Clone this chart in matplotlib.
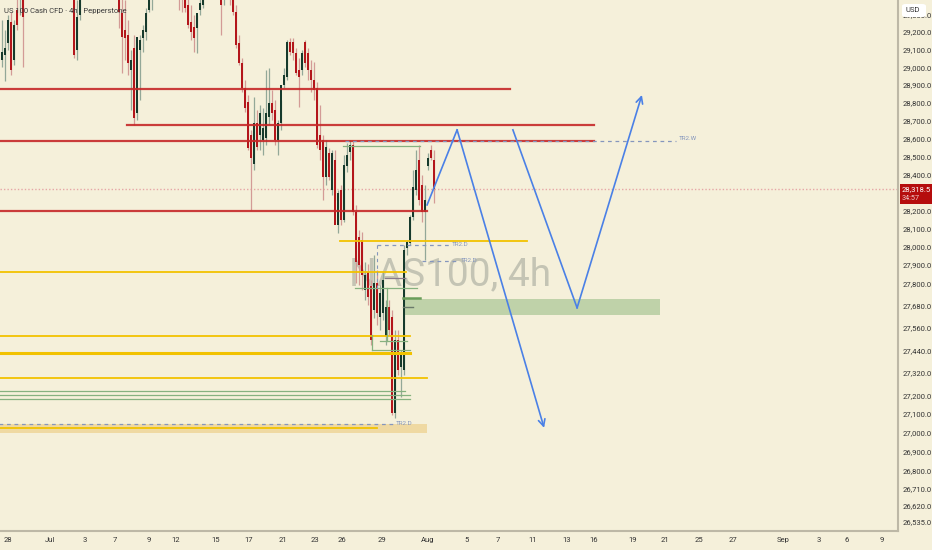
import numpy as np
import matplotlib
matplotlib.use("Agg")
import matplotlib.pyplot as plt
from matplotlib.ticker import FixedLocator, NullLocator
from matplotlib.patches import Rectangle, FancyBboxPatch

plt.rcParams['font.family'] = ['Roboto', 'DejaVu Sans']

# 4h candles (bars hidden above the top are rough guesses)
opens = [29041, 29069, 29137, 29257, 29041, 29326, 29441, 29498,
         29420, 29527, 29585, 29556, 29642, 29671, 29613, 29700, 29729, 29671, 29642, 29700, 29613, 29585, 29556, 29498,
         29498, 29097, 29297,
         29412, 29470, 29527, 29585, 29556, 29613, 29642, 29585, 29556, 29527, 29498, 29470,
         29441, 29309, 29211, 29183, 28984, 29108, 28741, 29097, 29165, 29200, 29326, 29412,
         29470, 29527, 29585, 29642, 29613, 29671, 29642, 29585,
         29498, 29412, 29383, 29354, 29257, 29229, 29223, 29326, 29354,
         29412, 29470, 29527, 29498, 29556,
         29498, 29383, 29441, 29498, 29383, 29314, 29137, 29024, 28883, 28803, 28619, 28457,
         28686, 28619, 28591, 28602, 28719, 28798, 28758, 28591, 28686, 28900, 28945, 29142,
         29142, 29080, 28984, 28984, 29142, 29080, 28984, 28928, 28883, 28619, 28591, 28385,
         28518, 28313, 28479, 28120, 28313, 28147, 28446, 28524, 28563, 28191, 28054, 28038,
         27765, 27863, 27787, 27657, 27803, 27619, 27641, 27517, 27673, 27619, 27106, 27495,
         27350, 27334, 27994, 28021, 28164, 28313, 28479, 28340, 28191, 28446, 28535, 28479]
highs = [29269, 29211, 29297, 29314, 29269, 29412, 29556, 29527,
         29560, 29610, 29600, 29670, 29700, 29690, 29720, 29760, 29745, 29690, 29725, 29710, 29640, 29600, 29570, 29520,
         29530, 29383, 29498,
         29490, 29545, 29600, 29610, 29630, 29665, 29655, 29600, 29570, 29545, 29510, 29485,
         29498, 29441, 29383, 29269, 29097, 29183, 28815, 29183, 29240, 29337, 29441, 29498,
         29545, 29600, 29660, 29655, 29690, 29685, 29650, 29600,
         29556, 29527, 29470, 29441, 29354, 29297, 29297, 29412, 29470,
         29490, 29545, 29540, 29570, 29565,
         29527, 29470, 29556, 29556, 29441, 29354, 29183, 29052, 28928, 28843, 28647, 28832,
         28758, 28787, 28770, 28984, 28996, 28871, 28815, 28702, 28815, 28996, 29154, 29165,
         29165, 29108, 29052, 29097, 29154, 29108, 29041, 29030, 28917, 28787, 28619, 28591,
         28546, 28535, 28535, 28313, 28340, 28507, 28574, 28591, 28591, 28230, 28092, 28081,
         27917, 27906, 27819, 27955, 27874, 27792, 27863, 27711, 27711, 27657, 27549, 27549,
         27441, 28010, 28038, 28175, 28424, 28535, 28563, 28396, 28340, 28518, 28563, 28535]
lows = [29001, 28922, 29097, 28956, 29013, 29211, 29297, 29001,
        29405, 29500, 29530, 29540, 29620, 29600, 29600, 29680, 29650, 29620, 29630, 29600, 29570, 29540, 29480, 29440,
        29052, 29041, 29269,
        29400, 29455, 29510, 29535, 29540, 29600, 29570, 29535, 29505, 29480, 29450, 29420,
        29223, 28967, 29041, 28956, 28758, 28675, 28702, 28815, 29086, 29154, 29314, 29326,
        29455, 29510, 29570, 29600, 29600, 29630, 29570, 29480,
        29326, 29314, 29314, 29223, 29154, 29086, 29080, 29297, 29337,
        29400, 29455, 29480, 29485, 29480,
        29183, 29354, 29412, 29354, 29297, 29108, 29013, 28860, 28747, 28535, 28202, 28424,
        28535, 28535, 28507, 28563, 28675, 28702, 28563, 28507, 28647, 28883, 28928, 29069,
        29041, 28956, 28775, 28956, 29001, 28928, 28860, 28815, 28546, 28479, 28257, 28340,
        28368, 28285, 28257, 28076, 28120, 28136, 28413, 28479, 28175, 27803, 27792, 27765,
        27711, 27684, 27468, 27614, 27576, 27549, 27603, 27468, 27522, 27095, 27079, 27308,
        27191, 27308, 27955, 28010, 28147, 28285, 28230, 28136, 27928, 28424, 28479, 28241]
closes = [29086, 29108, 29269, 28984, 29240, 29240, 29498, 29286,
          29527, 29585, 29556, 29642, 29671, 29613, 29700, 29729, 29671, 29642, 29700, 29613, 29585, 29556, 29498, 29470,
          29069, 29286, 29412,
          29470, 29527, 29585, 29556, 29613, 29642, 29585, 29556, 29527, 29498, 29470, 29441,
          29314, 29171, 29165, 29024, 29041, 28713, 29171, 29154, 29211, 29309, 29412, 29470,
          29527, 29585, 29642, 29613, 29671, 29642, 29585, 29498,
          29395, 29383, 29337, 29240, 29200, 29165, 29309, 29366, 29412,
          29470, 29527, 29498, 29556, 29498,
          29354, 29429, 29498, 29383, 29314, 29126, 29024, 28883, 28770, 28546, 28490, 28686,
          28552, 28741, 28658, 28741, 28798, 28741, 28591, 28686, 28900, 28956, 29142, 29086,
          29080, 28967, 28945, 29080, 29024, 28984, 28928, 28871, 28563, 28535, 28385, 28552,
          28385, 28518, 28120, 28296, 28147, 28452, 28507, 28563, 28191, 27917, 27901, 27846,
          27846, 27727, 27495, 27803, 27641, 27749, 27819, 27673, 27549, 27106, 27495, 27334,
          27425, 27983, 28027, 28164, 28329, 28424, 28257, 28191, 28257, 28490, 28490, 28318.5]

last_price = 28318.5
countdown = "34:57"

price_ticks = [29300, 29200, 29100, 29000, 28900, 28800, 28700, 28600, 28500, 28400, 28200,
               28100, 28000, 27900, 27800, 27680, 27560, 27440, 27320, 27200, 27100, 27000,
               26900, 26800, 26710, 26620, 26535]
date_labels = ["28", "Jul", "3", "7", "9", "12", "15", "17", "21", "23", "26", "29", "Aug",
               "5", "7", "11", "13", "16", "19", "21", "25", "27", "Sep", "3", "6", "9"]
date_pos = [2.0, 16.0, 27.7, 37.7, 49.0, 58.0, 71.3, 82.3, 93.7, 104.3, 113.3, 126.7, 141.7,
            155.0, 165.3, 177.0, 188.3, 197.3, 210.3, 221.0, 232.3, 243.7, 260.3, 272.3, 281.7, 293.3]

# drawn levels: (price, x start, x end) in bar units
red_levels = [(28877, -1, 169.3), (28675, 41.7, 197.3), (28585, -1, 197.3), (28197, -1, 141.7)]
gold_levels = [(28032, 112.7, 175.0), (27863, -1, 134.7), (27517, -1, 136.0), (27425, -1, 136.0),
               (27292, -1, 141.7), (27027, -1, 125.0)]
green_levels = [(28558, 113.7, 139.3), (27776, 117.7, 138.3), (27490, 126.0, 135.0), (27441, 123.3, 136.0),
                (27223, -1, 134.3), (27201, -1, 136.0), (27180, -1, 136.0)]
tr2_lines = [(28585, 114.3, 224.7, "TR2.W"), (28010, 125.0, 149.0, "TR2.D"),
             (27923, 140.0, 152.0, "TR2.D"), (27048, -1, 130.3, "TR2.D")]
zone = (133.7, 219.3, 27630, 27716)
band = (-1, 141.7, 27000, 27048)
path_a = ([141.7, 151.7, 180.7], [28230, 28647, 27027])
path_b = ([170.3, 191.7, 213.3], [28647, 27668, 28843])

bg = '#f5f0da'
bull, bear = '#163a2c', '#b3161b'
bull_w, bear_w = '#93a898', '#d39b96'
red_c, gold_c, green_c = '#c62828', '#f2c200', '#86b17f'
tr_c, blue_c = '#8596bd', '#4a80e6'

fig = plt.figure(figsize=(9.32, 5.5), dpi=100, facecolor=bg)
ax = fig.add_axes([0, 19 / 550, 898 / 932, 531 / 550], facecolor=bg)
ax.set_yscale('log')
ax.set_xlim(-0.667, 298.67)
ax.set_ylim(26488, 29383)

o = np.array(opens); h = np.array(highs); l = np.array(lows); c = np.array(closes)
x = np.arange(len(o))
up = c >= o
ax.vlines(x[up], l[up], h[up], color=bull_w, lw=0.9, zorder=3)
ax.vlines(x[~up], l[~up], h[~up], color=bear_w, lw=0.9, zorder=3)
bot = np.minimum(o, c)
hei = np.maximum(np.abs(c - o), 4)
ax.bar(x[up], hei[up], bottom=bot[up], width=0.55, color=bull, zorder=4, linewidth=0)
ax.bar(x[~up], hei[~up], bottom=bot[~up], width=0.55, color=bear, zorder=4, linewidth=0)

# watermark
ax.text(149.3, 27792, "NAS100, 4h", fontsize=28, color='#c4c4b4', ha='center', va='baseline', zorder=1)

for p, x0, x1 in red_levels:
    ax.plot([x0, x1], [p, p], color=red_c, lw=1.6, alpha=0.9, zorder=5)
for i, (p, x0, x1) in enumerate(gold_levels):
    ax.plot([x0, x1], [p, p], color=gold_c, lw=2.2 if i == 3 else 1.3, zorder=5)
for p, x0, x1 in green_levels:
    ax.plot([x0, x1], [p, p], color=green_c, lw=0.9, zorder=5)
ax.plot([128.3, 128.3], [27776, 27490], color=green_c, lw=0.9, zorder=5)
ax.plot([123.3, 123.3], [27520, 27441], color=green_c, lw=0.9, zorder=5)
ax.plot([133.7, 139.3], [27722, 27722], color='#6a9d5a', lw=1.8, zorder=5)
ax.plot([133.7, 137.0], [27673, 27673], color='#6b7a6b', lw=1.0, zorder=5)
ax.plot([127.7, 134.3], [27830, 27830], color='#8a7a8a', lw=0.9, zorder=5)

for p, x0, x1, lab in tr2_lines:
    ax.plot([x0, x1], [p, p], color=tr_c, lw=0.9, ls=(0, (3, 3)), zorder=5)
    ax.text(x1 + 1, p, lab, fontsize=4.5, color=tr_c, va='bottom' if lab == "TR2.W" else 'center', zorder=6)
ax.plot([125.0, 125.0], [28010, 27765], color=tr_c, lw=0.8, ls=(0, (3, 3)), zorder=5)

ax.add_patch(Rectangle((zone[0], zone[2]), zone[1] - zone[0], zone[3] - zone[2],
                       color='#a8c695', alpha=0.7, lw=0, zorder=2))
ax.add_patch(Rectangle((band[0], band[2]), band[1] - band[0], band[3] - band[2],
                       color='#efd9a2', lw=0, zorder=2))

ax.axhline(last_price, color='#e6a6a6', lw=1.0, ls=(0, (1, 1.5)), zorder=2)

for px, py in (path_a, path_b):
    ax.plot(px[:-1], py[:-1], color=blue_c, lw=1.2, zorder=7)
    ax.annotate('', xy=(px[-1], py[-1]), xytext=(px[-2], py[-2]),
                arrowprops=dict(arrowstyle='->', color=blue_c, lw=1.2, shrinkA=0, shrinkB=0,
                                mutation_scale=12), zorder=7)

ax.text(0.005, 0.985, "US 100 Cash CFD · 4h · Pepperstone", transform=ax.transAxes,
        fontsize=5.5, color='#3a3a3a', va='top', ha='left', zorder=8)

# axes styling
for s in ['top', 'left']:
    ax.spines[s].set_visible(False)
for s in ['right', 'bottom']:
    ax.spines[s].set_color('#bdb8a6')
    ax.spines[s].set_linewidth(1.5)
ax.yaxis.tick_right()
ax.yaxis.set_major_locator(FixedLocator(price_ticks))
ax.yaxis.set_minor_locator(NullLocator())
ax.set_yticklabels([f"{t:,.1f}" for t in price_ticks])
ax.tick_params(axis='y', length=0, pad=3, labelsize=5.5, labelcolor='#333333')
ax.set_xticks(date_pos)
ax.set_xticklabels(date_labels)
ax.tick_params(axis='x', length=0, pad=4, labelsize=5.5, labelcolor='#333333')

# right scale badges
fig.patches.append(FancyBboxPatch((902 / 932, 1 - 17 / 550), 24 / 932, 13 / 550,
                                  boxstyle='round,pad=0,rounding_size=0.004', transform=fig.transFigure,
                                  facecolor='white', edgecolor='none', zorder=10))
fig.text(905 / 932, 1 - 10.5 / 550, "USD", fontsize=5.5, color='#333333', va='center', zorder=11)
fig.patches.append(Rectangle((900 / 932, 1 - 204 / 550), 32 / 932, 20 / 550, transform=fig.transFigure,
                             facecolor='#b50d0d', edgecolor='none', zorder=10))
fig.text(902 / 932, 1 - 189.5 / 550, f"{last_price:,.1f}", fontsize=5.5, color='white', va='center', zorder=11)
fig.text(902 / 932, 1 - 198.5 / 550, countdown, fontsize=5.2, color='#f0cccc', va='center', zorder=11)

fig.savefig("out.png", dpi=100, facecolor=bg)
